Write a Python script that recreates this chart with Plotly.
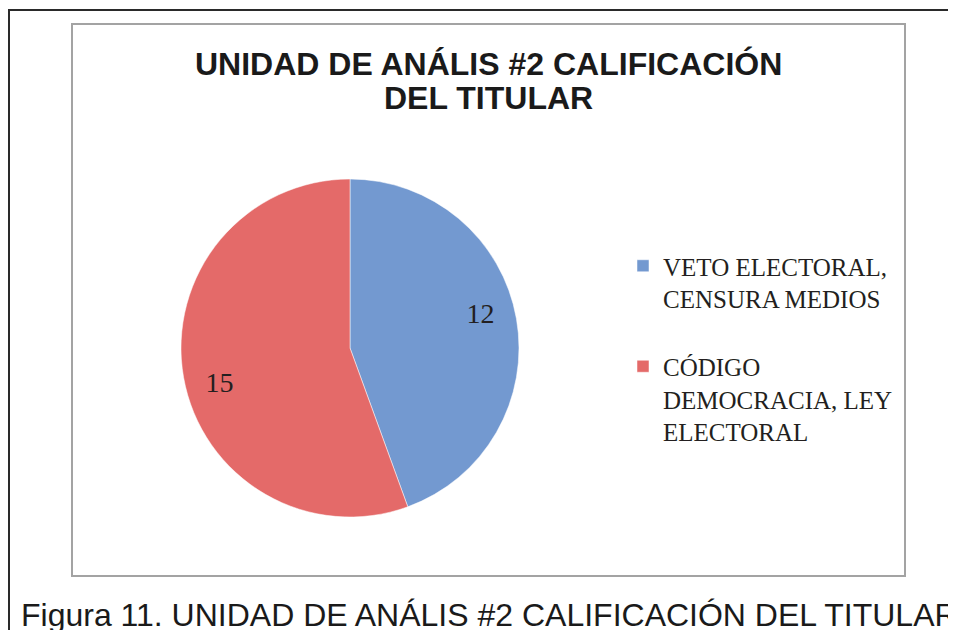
import plotly.graph_objects as go

# ---- data ----
categories = ["VETO ELECTORAL,<br>CENSURA MEDIOS<br> ", "CÓDIGO<br>DEMOCRACIA, LEY<br>ELECTORAL"]
values = [12, 15]
slice_colors = ["#7399D0", "#E46A69"]
title_lines = ["UNIDAD DE ANÁLIS #2 CALIFICACIÓN", "DEL TITULAR"]
caption = "Figura 11. UNIDAD DE ANÁLIS #2 CALIFICACIÓN DEL TITULAR"

# page body has an 8px margin in the viewer, so the figure is sized to fill the rest
OFF = 8
W, H = 956 - OFF, 630 - OFF


def px(x):
    return (x - OFF) / W


def py(y):
    return 1 - (y - OFF) / H


pie_domain = dict(x=[px(181), px(519)], y=[py(517), py(179)])
label_font = dict(family="Liberation Serif, Times New Roman, serif", size=28, color="#231F20")

fig = go.Figure()
# the pie itself
fig.add_trace(go.Pie(
    labels=categories,
    values=values,
    sort=False,
    direction="clockwise",
    rotation=0,
    marker=dict(colors=slice_colors, line=dict(color="white", width=0.5)),
    textinfo="none",
    domain=pie_domain,
    hoverinfo="label+value",
))
# transparent ring carrying the value labels near the rim
fig.add_trace(go.Pie(
    labels=categories,
    values=values,
    sort=False,
    direction="clockwise",
    rotation=-5,
    hole=0.6,
    marker=dict(colors=["rgba(0,0,0,0)", "rgba(0,0,0,0)"], line=dict(width=0)),
    textinfo="value",
    textposition="inside",
    insidetextorientation="horizontal",
    textfont=label_font,
    domain=pie_domain,
    showlegend=False,
    hoverinfo="skip",
))

shapes = [
    # outer page frame
    dict(type="rect", xref="paper", yref="paper", x0=px(9), x1=1.05, y0=-0.05, y1=py(10),
         line=dict(color="#2a2a2a", width=2), fillcolor="rgba(0,0,0,0)", layer="below"),
    # chart area frame
    dict(type="rect", xref="paper", yref="paper", x0=px(72), x1=px(905), y0=py(576), y1=py(24),
         line=dict(color="#A3A3A3", width=2), fillcolor="white", layer="below"),
]

title_font = dict(family="Liberation Sans, Arial, sans-serif", size=32, color="#1A1A1A", weight="bold")
annotations = [
    dict(text=title_lines[0], x=px(488), y=py(64), xref="paper", yref="paper",
         xanchor="center", yanchor="middle", showarrow=False, font=title_font),
    dict(text=title_lines[1], x=px(488), y=py(98), xref="paper", yref="paper",
         xanchor="center", yanchor="middle", showarrow=False, font=title_font),
    dict(text=caption, x=px(19), y=py(615), xref="paper", yref="paper",
         xanchor="left", yanchor="middle", showarrow=False,
         font=dict(family="Liberation Sans, Arial, sans-serif", size=32, color="#1A1A1A")),
]

fig.update_layout(
    width=W, height=H,
    margin=dict(l=0, r=0, t=0, b=0),
    paper_bgcolor="white",
    plot_bgcolor="white",
    shapes=shapes,
    annotations=annotations,
    showlegend=True,
    legend=dict(
        x=px(623), y=py(243), xanchor="left", yanchor="top",
        font=dict(family="Liberation Serif, Times New Roman, serif", size=25, color="#231F20"),
        valign="top", bgcolor="rgba(0,0,0,0)", itemwidth=30,
    ),
)

fig.write_html("out.html")
